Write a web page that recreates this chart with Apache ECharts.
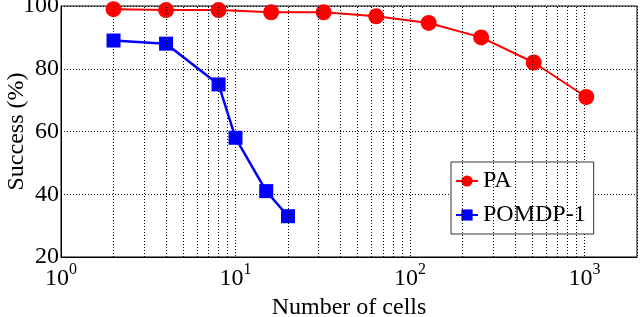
<!DOCTYPE html>
<html>
<head>
<meta charset="utf-8">
<script src="https://cdn.jsdelivr.net/npm/echarts@6/dist/echarts.min.js"></script>
<style>html,body{margin:0;padding:0;background:#fff}#c{width:640px;height:317px}</style>
</head>
<body>
<div id="c"></div>
<script>
var paCells = [2, 4, 8, 16, 32, 64, 128, 256, 512, 1024];
var paSuccess = [99, 98.7, 98.7, 98, 98, 96.7, 94.6, 90, 82, 71];
var pomdpCells = [2, 4, 8, 10, 15, 20];
var pomdpSuccess = [89, 88, 75, 58, 41, 33];
var yTicks = [20, 40, 60, 80, 100];
var minorGrid = [2, 3, 4, 5, 6, 7, 8, 9, 20, 30, 40, 50, 60, 70, 80, 90, 200, 300, 400, 500, 600, 700, 800, 900];

var FONT = 'Liberation Serif';
var FS = 24;
function pairs(xs, ys) { return xs.map(function (x, i) { return [x, ys[i]]; }); }

var chart = echarts.init(document.getElementById('c'), null, {renderer: 'canvas'});
chart.setOption({
  animation: false,
  backgroundColor: '#fff',
  grid: {left: 61, right: 3, top: 6, bottom: 60, show: true, borderColor: '#000', borderWidth: 1,
    backgroundColor: 'transparent', containLabel: false, outerBoundsMode: 'none'},
  xAxis: {
    type: 'log', logBase: 10, min: 1, max: 2000,
    name: 'Number of cells', nameLocation: 'middle', nameGap: 38,
    nameTextStyle: {fontFamily: FONT, fontSize: FS, color: '#000'},
    axisLine: {lineStyle: {color: '#000', width: 1}},
    axisTick: {show: false},
    splitLine: {show: true, lineStyle: {color: '#000', width: 1, type: [1, 2]}},
    axisLabel: {
      margin: 5, showMaxLabel: false, color: '#000',
      formatter: function (v) {
        var e = Math.round(Math.log(v) / Math.LN10);
        if (Math.abs(Math.pow(10, e) - v) > 1e-6 * v) return '';
        return '{b|10}{e|' + e + '}';
      },
      rich: {
        b: {fontFamily: FONT, fontSize: FS, lineHeight: 24, padding: [9, 0, 0, 0], color: '#000'},
        e: {fontFamily: FONT, fontSize: 16, lineHeight: 16, verticalAlign: 'top', color: '#000'}
      }
    }
  },
  yAxis: {
    type: 'value', min: 20, max: 100, interval: 20,
    name: 'Success (%)', nameLocation: 'middle', nameGap: 32, nameRotate: 90,
    nameMoveOverlap: false,
    nameTextStyle: {fontFamily: FONT, fontSize: FS, color: '#000'},
    axisLine: {show: true, lineStyle: {color: '#000', width: 1}},
    axisTick: {show: false},
    splitLine: {show: true, lineStyle: {color: '#000', width: 1, type: [1, 2]}},
    axisLabel: {margin: 2, fontFamily: FONT, fontSize: FS, color: '#000',
      formatter: function (v) { return yTicks.indexOf(v) >= 0 ? String(v) : ''; }}
  },
  legend: {
    orient: 'vertical', left: 451, top: 162,
    padding: [7, 8, 7, 4], itemGap: 10, itemWidth: 22, itemHeight: 14,
    backgroundColor: '#fff', borderColor: '#333', borderWidth: 1,
    textStyle: {fontFamily: FONT, fontSize: FS, lineHeight: 24, color: '#000'},
    data: ['PA', 'POMDP-1']
  },
  series: [
    {
      type: 'line', name: 'grid', data: [], z: 1, silent: true,
      markLine: {
        silent: true, symbol: 'none', label: {show: false},
        lineStyle: {color: '#000', width: 1, type: [1, 2]},
        data: minorGrid.map(function (v) { return {xAxis: v}; })
      }
    },
    {
      type: 'line', name: 'PA', data: pairs(paCells, paSuccess), z: 3,
      symbol: 'circle', symbolSize: 16,
      lineStyle: {color: '#ff0000', width: 2}, itemStyle: {color: '#ff0000'}
    },
    {
      type: 'line', name: 'POMDP-1', data: pairs(pomdpCells, pomdpSuccess), z: 3,
      symbol: 'rect', symbolSize: 14,
      lineStyle: {color: '#0000ff', width: 2.5}, itemStyle: {color: '#0000ff'}
    }
  ]
});
</script>
</body>
</html>
